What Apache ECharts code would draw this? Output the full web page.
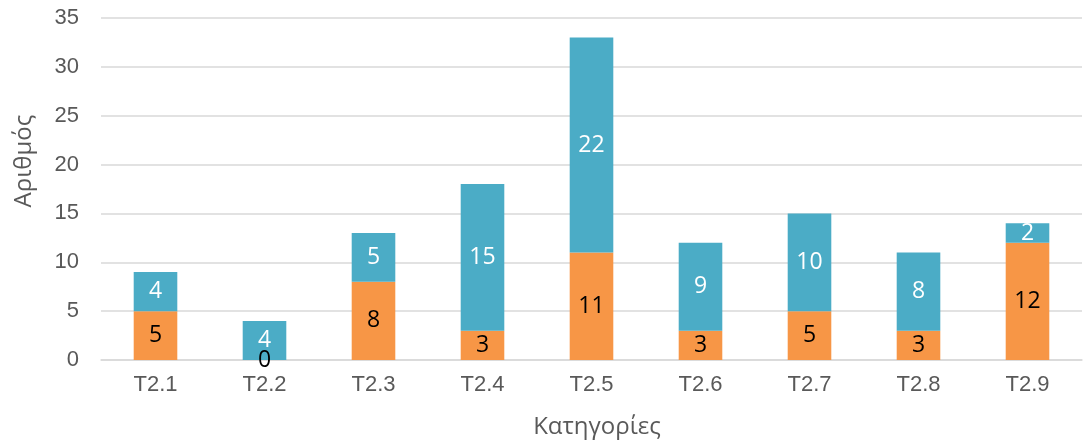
<!DOCTYPE html>
<html><head><meta charset="utf-8">
<script src="https://cdn.jsdelivr.net/npm/echarts@6/dist/echarts.min.js"></script>
<style>html,body{margin:0;padding:0;background:#fff}#c{width:1084px;height:441px}</style>
</head><body><div id="c"></div>
<script>
const categories = ['T2.1','T2.2','T2.3','T2.4','T2.5','T2.6','T2.7','T2.8','T2.9'];
const orangeValues = [5,0,8,3,11,3,5,3,12];
const blueValues = [4,4,5,15,22,9,10,8,2];
const yTicks = [0,35,5];
const xTitle = 'Κατηγορίες';
const yTitle = 'Αριθμός';

const chart = echarts.init(document.getElementById('c'));
const labelFont = '"Open Sans", sans-serif';
const axisFont = '"Liberation Sans", Arial, sans-serif';
const titleFont = '"Open Sans", sans-serif';
chart.setOption({
  animation:false,
  grid:{left:101,right:2,top:18,bottom:81},
  xAxis:{type:'category',data:categories,
    axisLine:{show:true,lineStyle:{color:'#D9D9D9',width:1.5}},axisTick:{show:false},
    axisLabel:{color:'#595959',fontSize:22,fontFamily:axisFont,margin:14}},
  yAxis:{type:'value',min:yTicks[0],max:yTicks[1],interval:yTicks[2],
    axisLine:{show:false},axisTick:{show:false},
    splitLine:{lineStyle:{color:'#D9D9D9',width:1.5}},
    axisLabel:{color:'#595959',fontSize:22,fontFamily:axisFont,margin:22}},
  graphic:[
    {type:'text',x:597,y:427,style:{text:xTitle,fill:'#595959',font:'24px '+titleFont,textAlign:'center',textVerticalAlign:'middle'}},
    {type:'text',x:24,y:161,rotation:Math.PI/2,style:{text:yTitle,fill:'#595959',font:'24px '+titleFont,textAlign:'center',textVerticalAlign:'middle'}}
  ],
  series:[
    {type:'bar',stack:'s',data:orangeValues,barWidth:'40%',itemStyle:{color:'#F79646'},
     label:{show:true,position:'inside',color:'#000',fontSize:23,fontFamily:labelFont}},
    {type:'bar',stack:'s',data:blueValues,barWidth:'40%',itemStyle:{color:'#4BACC6'},
     label:{show:true,position:'inside',color:'#fff',fontSize:23,fontFamily:labelFont}}
  ]
});
</script></body></html>
